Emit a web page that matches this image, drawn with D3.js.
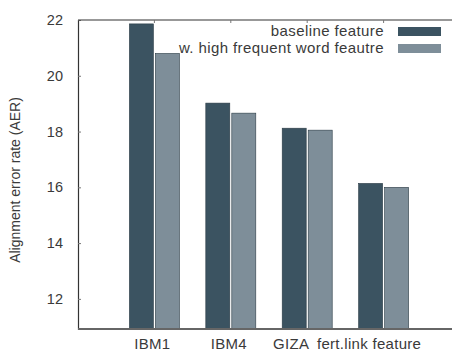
<!DOCTYPE html>
<html>
<head>
<meta charset="utf-8">
<script src="https://cdn.jsdelivr.net/npm/d3@7"></script>
<style>
  body { margin: 0; background: #fff; }
  svg { display: block; font-family: "Liberation Sans", Arial, sans-serif; }
</style>
</head>
<body>
<svg id="chart" width="452" height="352"></svg>
<script>
// data
const categories = ['IBM1', 'IBM4', 'GIZA', 'fert.link feature'];
const baseline = [21.86, 19.02, 18.12, 16.14];
const highFreq = [20.8, 18.66, 18.05, 16.0];
const seriesNames = ['baseline feature', 'w. high frequent word feautre'];
const yTicks = [12, 14, 16, 18, 20, 22];

const colors = ['#3b5361', '#7e8e99'];
const textColor = '#3a3a3a';

const svg = d3.select('#chart');
const margin = { left: 78, top: 20, right: 460, bottom: 329 };

// gnuplot style histogram: groups at 0..n-1, x range [-1, n]
const x = d3.scaleLinear().domain([-1, categories.length]).range([margin.left, margin.right]);
const y = d3.scaleLinear().domain([10.92, 22]).range([margin.bottom, margin.top]);

const barW = 24, gap = 2;

const series = [baseline, highFreq];
series.forEach((vals, s) => {
  svg.append('g').selectAll('rect')
    .data(vals)
    .join('rect')
    .attr('x', (d, i) => x(i) - barW - gap / 2 + s * (barW + gap))
    .attr('y', d => y(d))
    .attr('width', barW)
    .attr('height', d => y.range()[0] - y(d))
    .attr('fill', colors[s])
    .attr('stroke', '#2a3a44')
    .attr('stroke-width', 0.6);
});

// frame: left, top, bottom
const yAxis = d3.axisLeft(y).tickValues(yTicks).tickSize(-3).tickPadding(15);
const gy = svg.append('g').attr('transform', `translate(${margin.left},0)`).call(yAxis);
gy.select('.domain').attr('stroke', '#333').attr('stroke-width', 1.2);
gy.selectAll('.tick line').attr('stroke', '#777');
gy.selectAll('text').attr('fill', textColor).attr('font-size', 14.5);

svg.append('line')
  .attr('x1', margin.left).attr('x2', 452)
  .attr('y1', margin.top).attr('y2', margin.top)
  .attr('stroke', '#333').attr('stroke-width', 1.2);

// mirrored top ticks at group centres
svg.append('g').selectAll('line')
  .data(categories)
  .join('line')
  .attr('x1', (d, i) => x(i)).attr('x2', (d, i) => x(i))
  .attr('y1', margin.top).attr('y2', margin.top + 3)
  .attr('stroke', '#777');

svg.append('line')
  .attr('x1', margin.left).attr('x2', 452)
  .attr('y1', margin.bottom).attr('y2', margin.bottom)
  .attr('stroke', '#666').attr('stroke-width', 2);

// category labels (the last two crowd each other in the original)
const labelShift = [-2, -2, -16, -14.5];
svg.append('g').selectAll('text')
  .data(categories)
  .join('text')
  .attr('x', (d, i) => x(i) + labelShift[i])
  .attr('y', 349)
  .attr('text-anchor', 'middle')
  .attr('font-size', 15)
  .attr('letter-spacing', 0.3)
  .attr('fill', textColor)
  .text(d => d);

// y axis title
svg.append('text')
  .attr('transform', `translate(20,180) rotate(-90)`)
  .attr('text-anchor', 'middle')
  .attr('font-size', 14)
  .attr('fill', textColor)
  .text('Alignment error rate (AER)');

// legend
const legend = svg.append('g');
seriesNames.forEach((name, i) => {
  const ly = 31 + i * 17;
  legend.append('text')
    .attr('x', 384).attr('y', ly + 5)
    .attr('text-anchor', 'end')
    .attr('font-size', 15)
    .attr('letter-spacing', 0.4)
    .attr('fill', textColor)
    .text(name);
  legend.append('rect')
    .attr('x', 398).attr('y', ly - 4)
    .attr('width', 43).attr('height', 9)
    .attr('fill', colors[i]);
});
</script>
</body>
</html>
